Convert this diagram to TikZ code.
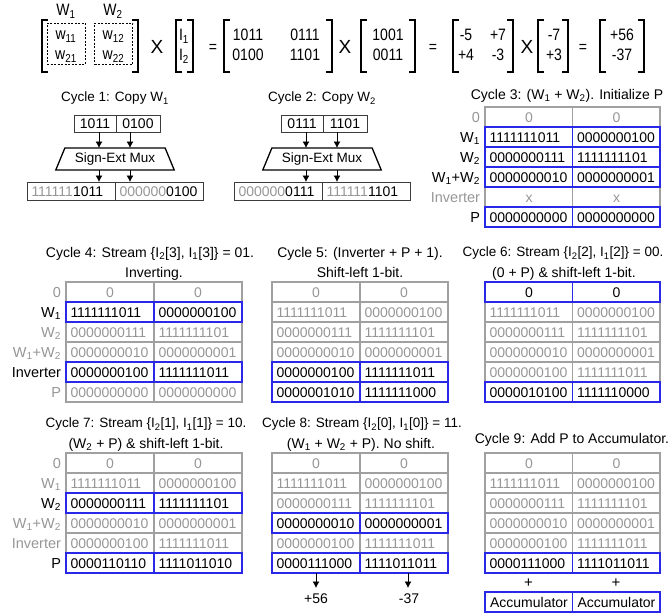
\documentclass[tikz,border=0pt]{standalone}
\usepackage{fontspec}
\setmainfont{Liberation Sans}
\newfontfamily\eqf[FakeStretch=0.85]{Liberation Sans}
\usetikzlibrary{arrows.meta,shapes.geometric}
\definecolor{lg}{RGB}{150,150,150}
\definecolor{gline}{RGB}{160,160,160}
\definecolor{bl}{RGB}{40,40,230}
\definecolor{dk}{RGB}{60,60,60}
\newcommand\ft[1]{\fontsize{#1}{#1}\selectfont}
\newcommand\trow[8]{%
  \node[cellbox, minimum width=#4pt] (#1l) at (#2,#3) {};
  \node[cellbox, minimum width=#4pt] (#1r) at (#2+#4,#3) {};
  \node[celltext, #8, text=#7] (#1lt) at (#1l.west) {#5};
  \node[celltext, #8, text=#7] (#1rt) at (#1r.west) {#6};
}
\newcommand\rlab[3]{\node[lab, text=#3] (#1lab) at ([xshift=-5pt]#1l.west) {#2};}
\newcommand\brow[1]{\draw[bline] (#1l.north west) rectangle (#1r.south east); \draw[bline] (#1l.north east) -- (#1l.south east);}
\newcommand\lbr[3]{\draw[brk] (#1+6,#2) -- (#1,#2) -- (#1,#3) -- (#1+6,#3);}
\newcommand\rbr[3]{\draw[brk] (#1-6,#2) -- (#1,#2) -- (#1,#3) -- (#1-6,#3);}
\begin{document}
\begin{tikzpicture}[x=1pt,y=-1pt,
  every node/.style={inner sep=0pt, outer sep=0pt},
  cellbox/.style={draw=gline, line width=1.1pt, minimum height=20pt, anchor=north west},
  celltext/.style={font=\ft{14}, text height=10pt, text depth=0pt},
  ctext/.style={anchor=center, xshift=44pt},
  ltext/.style={anchor=west, xshift=4.5pt},
  bline/.style={draw=bl, line width=1.1pt},
  lab/.style={font=\ft{14.5}, anchor=east, text height=10.4pt, text depth=0pt},
  ttl/.style={font=\ft{14}, text height=10pt, text depth=0pt},
  ttls/.style={font=\ft{13.5}, text height=9.7pt, text depth=0pt},
  arr/.style={-{Latex[length=6.5pt,width=7pt]}, line width=0.9pt},
  box/.style={draw=dk, line width=0.9pt, anchor=north west},
  mux/.style={trapezium, trapezium left angle=60, trapezium right angle=60, trapezium stretches=true, minimum width=119pt, minimum height=22pt, draw, line width=1.3pt, font=\ft{13.5}},
  brk/.style={line width=1.8pt, line join=miter},
  eqs/.style={font=\eqf\ft{16.5}, text height=11.8pt, text depth=0pt},
  eqx/.style={font=\ft{19}, text height=13.6pt, text depth=0pt},
  dbox/.style={draw, dash pattern=on 2pt off 1.5pt, line width=0.8pt, minimum width=38pt, minimum height=41pt}
]
\useasboundingbox (0,0) rectangle (668,614);

% ---------------- equation ----------------
\node[eqs] (wl1) at (66,10) {W\textsubscript{1}};
\node[eqs] (wl2) at (113,10) {W\textsubscript{2}};
\lbr{42}{20}{72}\rbr{138}{20}{72}
\node[dbox] (d1) at (66,43.5) {};
\node[dbox] (d2) at (113.5,43.5) {};
\node[eqs] (w11) at (66,34) {w\textsubscript{11}};
\node[eqs] (w21) at (66,54) {w\textsubscript{21}};
\node[eqs] (w12) at (113.5,34) {w\textsubscript{12}};
\node[eqs] (w22) at (113.5,54) {w\textsubscript{22}};
\node[eqx] (x1) at (157,47) {X};
\lbr{176}{20}{72}\rbr{193}{20}{72}
\node[eqs] (i1) at (184,35) {I\textsubscript{1}};
\node[eqs] (i2) at (184,55) {I\textsubscript{2}};
\node[eqs] (q1) at (213,47) {=};
\lbr{224}{20}{72}\rbr{332}{20}{72}
\node[eqs] (m11) at (248,35) {1011};
\node[eqs] (m12) at (305,35) {0111};
\node[eqs] (m21) at (248,55) {0100};
\node[eqs] (m22) at (305,55) {1101};
\node[eqx] (x2) at (345,47) {X};
\lbr{361}{20}{72}\rbr{415}{20}{72}
\node[eqs] (v1) at (388,35) {1001};
\node[eqs] (v2) at (388,55) {0011};
\node[eqs] (q2) at (433,47) {=};
\lbr{453}{20}{72}\rbr{513}{20}{72}
\node[eqs] (n11) at (466,35) {-5};
\node[eqs] (n12) at (498,35) {+7};
\node[eqs] (n21) at (466,55) {+4};
\node[eqs] (n22) at (498,55) {-3};
\node[eqx] (x3) at (527,47) {X};
\lbr{538}{20}{72}\rbr{568}{20}{72}
\node[eqs] (u1) at (554,35) {-7};
\node[eqs] (u2) at (554,55) {+3};
\node[eqs] (q3) at (583,47) {=};
\lbr{600}{20}{72}\rbr{644}{20}{72}
\node[eqs] (r1) at (622,35) {+56};
\node[eqs] (r2) at (622,55) {-37};

% ---------------- cycle 1 ----------------
\node[ttls] (t1) at (115,97) {Cycle 1: Copy W\textsubscript{1}};
\node[box, minimum width=42pt, minimum height=17pt] (c1ta) at (74,115) {};
\node[box, minimum width=44pt, minimum height=17pt] (c1tb) at (116,115) {};
\node[celltext] (c1tat) at (c1ta.center) {1011};
\node[celltext] (c1tbt) at (c1tb.center) {0100};
\node[mux] (m1) at (115,159) {Sign-Ext Mux};
\coordinate (c1x1) at (99,0); \coordinate (c1x2) at (130,0);
\draw[arr] (c1ta.south -| c1x1) -- (m1.north -| c1x1);
\draw[arr] (c1tb.south -| c1x2) -- (m1.north -| c1x2);
\node[box, minimum width=88pt, minimum height=18pt] (c1ba) at (27,182) {};
\node[box, minimum width=88pt, minimum height=18pt] (c1bb) at (115,182) {};
\draw[arr] (m1.south -| c1x1) -- (c1ba.north -| c1x1);
\draw[arr] (m1.south -| c1x2) -- (c1bb.north -| c1x2);
\node[celltext, ltext] (c1bat) at (c1ba.west) {\textcolor{lg}{111111}1011};
\node[celltext, ltext] (c1bbt) at (c1bb.west) {\textcolor{lg}{000000}0100};

% ---------------- cycle 2 ----------------
\node[ttls] (t2) at (322,97) {Cycle 2: Copy W\textsubscript{2}};
\node[box, minimum width=42pt, minimum height=17pt] (c2ta) at (281,115) {};
\node[box, minimum width=44pt, minimum height=17pt] (c2tb) at (323,115) {};
\node[celltext] (c2tat) at (c2ta.center) {0111};
\node[celltext] (c2tbt) at (c2tb.center) {1101};
\node[mux] (m2) at (322,159) {Sign-Ext Mux};
\coordinate (c2x1) at (306,0); \coordinate (c2x2) at (337,0);
\draw[arr] (c2ta.south -| c2x1) -- (m2.north -| c2x1);
\draw[arr] (c2tb.south -| c2x2) -- (m2.north -| c2x2);
\node[box, minimum width=88pt, minimum height=18pt] (c2ba) at (234,182) {};
\node[box, minimum width=88pt, minimum height=18pt] (c2bb) at (322,182) {};
\draw[arr] (m2.south -| c2x1) -- (c2ba.north -| c2x1);
\draw[arr] (m2.south -| c2x2) -- (c2bb.north -| c2x2);
\node[celltext, ltext] (c2bat) at (c2ba.west) {\textcolor{lg}{000000}0111};
\node[celltext, ltext] (c2bbt) at (c2bb.west) {\textcolor{lg}{111111}1101};

% ---------------- cycle 3 ----------------
\node[ttl] (t3) at (567,94) {Cycle 3: (W\textsubscript{1} + W\textsubscript{2}). Initialize P};
\trow{c3a}{485}{107}{87.5}{0}{0}{lg}{ctext}
\trow{c3b}{485}{127}{87.5}{1111111011}{0000000100}{black}{ltext}
\trow{c3c}{485}{147}{87.5}{0000000111}{1111111101}{black}{ltext}
\trow{c3d}{485}{167}{87.5}{0000000010}{0000000001}{black}{ltext}
\trow{c3e}{485}{187}{87.5}{x}{x}{lg}{ctext}
\trow{c3f}{485}{207}{87.5}{0000000000}{0000000000}{black}{ltext}
\brow{c3b}\brow{c3c}\brow{c3d}\brow{c3f}
\rlab{c3a}{0}{lg}
\rlab{c3b}{W\textsubscript{1}}{black}
\rlab{c3c}{W\textsubscript{2}}{black}
\rlab{c3d}{W\textsubscript{1}+W\textsubscript{2}}{black}
\rlab{c3e}{Inverter}{lg}
\rlab{c3f}{P}{black}

% ---------------- cycle 4 ----------------
\node[ttl] (t4a) at (150,252) {Cycle 4: Stream \{I\textsubscript{2}[3], I\textsubscript{1}[3]\} = 01.};
\node[ttl] (t4b) at (154,272) {Inverting.};
\trow{c4a}{66}{282}{88}{0}{0}{lg}{ctext}
\trow{c4b}{66}{302}{88}{1111111011}{0000000100}{black}{ltext}
\trow{c4c}{66}{322}{88}{0000000111}{1111111101}{lg}{ltext}
\trow{c4d}{66}{342}{88}{0000000010}{0000000001}{lg}{ltext}
\trow{c4e}{66}{362}{88}{0000000100}{1111111011}{black}{ltext}
\trow{c4f}{66}{382}{88}{0000000000}{0000000000}{lg}{ltext}
\brow{c4b}\brow{c4e}
\rlab{c4a}{0}{lg}
\rlab{c4b}{W\textsubscript{1}}{black}
\rlab{c4c}{W\textsubscript{2}}{lg}
\rlab{c4d}{W\textsubscript{1}+W\textsubscript{2}}{lg}
\rlab{c4e}{Inverter}{black}
\rlab{c4f}{P}{lg}

% ---------------- cycle 5 ----------------
\node[ttl] (t5a) at (360,252) {Cycle 5: (Inverter + P + 1).};
\node[ttl] (t5b) at (360,272) {Shift-left 1-bit.};
\trow{c5a}{272}{282}{88}{0}{0}{lg}{ctext}
\trow{c5b}{272}{302}{88}{1111111011}{0000000100}{lg}{ltext}
\trow{c5c}{272}{322}{88}{0000000111}{1111111101}{lg}{ltext}
\trow{c5d}{272}{342}{88}{0000000010}{0000000001}{lg}{ltext}
\trow{c5e}{272}{362}{88}{0000000100}{1111111011}{black}{ltext}
\trow{c5f}{272}{382}{88}{0000001010}{1111111000}{black}{ltext}
\brow{c5e}\brow{c5f}

% ---------------- cycle 6 ----------------
\node[ttls] (t6a) at (563,252) {Cycle 6: Stream \{I\textsubscript{2}[2], I\textsubscript{1}[2]\} = 00.};
\node[ttl] (t6b) at (564,272) {(0 + P) \& shift-left 1-bit.};
\trow{c6a}{485}{282}{87.5}{0}{0}{black}{ctext}
\trow{c6b}{485}{302}{87.5}{1111111011}{0000000100}{lg}{ltext}
\trow{c6c}{485}{322}{87.5}{0000000111}{1111111101}{lg}{ltext}
\trow{c6d}{485}{342}{87.5}{0000000010}{0000000001}{lg}{ltext}
\trow{c6e}{485}{362}{87.5}{0000000100}{1111111011}{lg}{ltext}
\trow{c6f}{485}{382}{87.5}{0000010100}{1111110000}{black}{ltext}
\brow{c6a}\brow{c6f}

% ---------------- cycle 7 ----------------
\node[ttls] (t7a) at (146,423) {Cycle 7: Stream \{I\textsubscript{2}[1], I\textsubscript{1}[1]\} = 10.};
\node[ttl] (t7b) at (146,443) {(W\textsubscript{2} + P) \& shift-left 1-bit.};
\trow{c7a}{66}{453}{88}{0}{0}{lg}{ctext}
\trow{c7b}{66}{473}{88}{1111111011}{0000000100}{lg}{ltext}
\trow{c7c}{66}{493}{88}{0000000111}{1111111101}{black}{ltext}
\trow{c7d}{66}{513}{88}{0000000010}{0000000001}{lg}{ltext}
\trow{c7e}{66}{533}{88}{0000000100}{1111111011}{lg}{ltext}
\trow{c7f}{66}{553}{88}{0000110110}{1111011010}{black}{ltext}
\brow{c7c}\brow{c7f}
\rlab{c7a}{0}{lg}
\rlab{c7b}{W\textsubscript{1}}{lg}
\rlab{c7c}{W\textsubscript{2}}{black}
\rlab{c7d}{W\textsubscript{1}+W\textsubscript{2}}{lg}
\rlab{c7e}{Inverter}{lg}
\rlab{c7f}{P}{black}

% ---------------- cycle 8 ----------------
\node[ttls] (t8a) at (362,423) {Cycle 8: Stream \{I\textsubscript{2}[0], I\textsubscript{1}[0]\} = 11.};
\node[ttl] (t8b) at (361,443) {(W\textsubscript{1} + W\textsubscript{2} + P). No shift.};
\trow{c8a}{272}{453}{88}{0}{0}{lg}{ctext}
\trow{c8b}{272}{473}{88}{1111111011}{0000000100}{lg}{ltext}
\trow{c8c}{272}{493}{88}{0000000111}{1111111101}{lg}{ltext}
\trow{c8d}{272}{513}{88}{0000000010}{0000000001}{black}{ltext}
\trow{c8e}{272}{533}{88}{0000000100}{1111111011}{lg}{ltext}
\trow{c8f}{272}{553}{88}{0000111000}{1111011011}{black}{ltext}
\brow{c8d}\brow{c8f}
\coordinate (e1) at (316,588); \coordinate (e2) at (408,588);
\draw[arr] (c8fl.south -| e1) -- (e1);
\draw[arr] (c8fr.south -| e2) -- (e2);
\node[celltext] (o1) at (316,598) {+56};
\node[celltext] (o2) at (409,598) {-37};

% ---------------- cycle 9 ----------------
\node[ttl] (t9) at (572,438) {Cycle 9: Add P to Accumulator.};
\trow{c9a}{485}{453}{87.5}{0}{0}{lg}{ctext}
\trow{c9b}{485}{473}{87.5}{1111111011}{0000000100}{lg}{ltext}
\trow{c9c}{485}{493}{87.5}{0000000111}{1111111101}{lg}{ltext}
\trow{c9d}{485}{513}{87.5}{0000000010}{0000000001}{lg}{ltext}
\trow{c9e}{485}{533}{87.5}{0000000100}{1111111011}{lg}{ltext}
\trow{c9f}{485}{553}{87.5}{0000111000}{1111011011}{black}{ltext}
\brow{c9f}
\node[celltext, font=\ft{15}] (p1) at (528.5,582) {+};
\node[celltext, font=\ft{15}] (p2) at (616,582) {+};
\trow{acc}{485}{592}{87.5}{Accumulator}{Accumulator}{black}{ctext}
\brow{acc}
\end{tikzpicture}
\end{document}
